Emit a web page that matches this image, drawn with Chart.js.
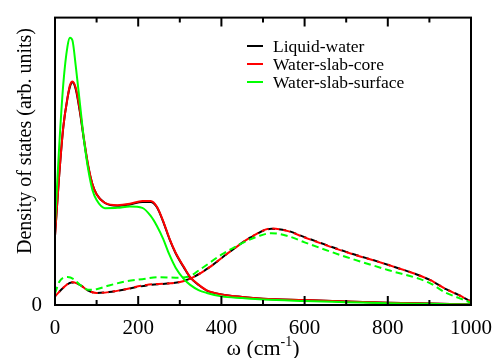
<!DOCTYPE html>
<html>
<head>
<meta charset="utf-8">
<script src="https://cdn.jsdelivr.net/npm/chart.js@4"></script>
<style>
  html, body { margin: 0; padding: 0; background: #fff; }
  #wrap { width: 495px; height: 358px; }
  .preload { position: absolute; left: -1000px; top: 0; font: 20px "Liberation Serif"; }
</style>
</head>
<body>
<div class="preload">Density ω 0123456789</div>
<div id="wrap"><canvas id="dos"></canvas></div>
<script>
// --- DATA ---
const seriesNames = ['Liquid-water', 'Water-slab-core', 'Water-slab-surface'];
const seriesColors = ['#000000', '#ff0000', '#00ff00'];
const xTicks = [0, 200, 400, 600, 800, 1000];

// solid curves
const wSolid = [0, 10, 20, 30, 36, 42, 50, 60, 70, 80, 90, 100, 120, 150, 180, 210, 230, 245, 260, 275, 290, 310, 325, 345, 365, 400, 450, 500, 600, 700, 800, 900, 1000];
const liquidSolid = [0.24, 0.45, 0.62, 0.72, 0.76, 0.775, 0.75, 0.67, 0.57, 0.48, 0.42, 0.385, 0.355, 0.345, 0.35, 0.358, 0.358, 0.34, 0.29, 0.23, 0.18, 0.13, 0.096, 0.07, 0.05, 0.037, 0.028, 0.022, 0.017, 0.012, 0.008, 0.005, 0.002];
const coreSolid = [0.24, 0.45, 0.62, 0.72, 0.765, 0.778, 0.755, 0.675, 0.575, 0.485, 0.42, 0.385, 0.355, 0.347, 0.352, 0.362, 0.362, 0.342, 0.292, 0.232, 0.182, 0.132, 0.097, 0.071, 0.051, 0.037, 0.028, 0.022, 0.017, 0.012, 0.008, 0.005, 0.002];
const surfSolid = [0.28, 0.55, 0.77, 0.90, 0.93, 0.92, 0.83, 0.70, 0.57, 0.47, 0.40, 0.365, 0.337, 0.338, 0.343, 0.338, 0.31, 0.275, 0.23, 0.175, 0.13, 0.09, 0.07, 0.052, 0.042, 0.03, 0.024, 0.019, 0.014, 0.01, 0.006, 0.004, 0.002];

// dashed curves
const wDashed = [0, 20, 40, 60, 80, 100, 130, 170, 220, 270, 300, 330, 370, 420, 470, 520, 560, 600, 700, 800, 900, 940, 970, 1000];
const liquidDashed = [0.03, 0.06, 0.078, 0.07, 0.05, 0.042, 0.045, 0.055, 0.068, 0.075, 0.08, 0.095, 0.13, 0.185, 0.235, 0.265, 0.258, 0.236, 0.185, 0.14, 0.088, 0.055, 0.035, 0.012];
const coreDashed = [0.03, 0.06, 0.08, 0.07, 0.05, 0.042, 0.045, 0.055, 0.07, 0.075, 0.08, 0.095, 0.13, 0.185, 0.235, 0.266, 0.257, 0.235, 0.184, 0.14, 0.088, 0.055, 0.035, 0.012];
const wSurfDashed = [0, 10, 20, 30, 45, 60, 80, 100, 130, 170, 210, 250, 290, 320, 350, 400, 450, 490, 520, 560, 600, 700, 800, 900, 940, 970, 1000];
const surfDashed = [0.04, 0.08, 0.095, 0.097, 0.09, 0.07, 0.053, 0.055, 0.068, 0.082, 0.09, 0.097, 0.095, 0.098, 0.125, 0.175, 0.215, 0.24, 0.25, 0.24, 0.218, 0.167, 0.122, 0.077, 0.042, 0.025, 0.008];

const SERIF = '"Liberation Serif"';

const pts = (xs, ys) => xs.map((x, i) => ({ x: x, y: ys[i] }));

// lower order is drawn on top
const line = (data, color, dashed, order) => ({
    data: data,
    order: order,
    borderColor: color,
    borderWidth: 2,
    borderDash: dashed ? [7, 4] : [],
    borderDashOffset: color === '#000000' ? 5 : 0,
    pointRadius: 0,
    fill: false,
    tension: 0.4,
    cubicInterpolationMode: 'monotone'
});

// --- PLUGINS ---
const frame = {
    id: 'frame',
    afterDatasetsDraw(chart) {
        const { ctx, chartArea: a, scales } = chart;
        ctx.save();
        ctx.strokeStyle = '#000';
        ctx.lineWidth = 2;
        ctx.strokeRect(a.left, a.top, a.right - a.left, a.bottom - a.top);
        // inward ticks on bottom and top
        for (let v = 0; v <= 1000; v += 100) {
            const px = scales.x.getPixelForValue(v);
            const len = v % 200 === 0 ? 9 : 5;
            ctx.beginPath();
            ctx.moveTo(px, a.bottom); ctx.lineTo(px, a.bottom - len);
            ctx.moveTo(px, a.top); ctx.lineTo(px, a.top + len);
            ctx.stroke();
        }
        // legend
        ctx.font = '17.5px ' + SERIF;
        ctx.textBaseline = 'middle';
        seriesNames.forEach((name, i) => {
            const y = 46 + i * 18;
            ctx.strokeStyle = seriesColors[i];
            ctx.beginPath();
            ctx.moveTo(247, y); ctx.lineTo(263, y);
            ctx.stroke();
            ctx.fillStyle = '#000';
            ctx.fillText(name, 273, y + 1);
        });
        // axis titles
        ctx.textBaseline = 'alphabetic';
        const t1 = 'ω (cm', t2 = '-1', t3 = ')';
        ctx.font = '22px ' + SERIF;
        const w1 = ctx.measureText(t1).width, w3 = ctx.measureText(t3).width;
        ctx.font = '14px ' + SERIF;
        const w2 = ctx.measureText(t2).width;
        const x0 = (a.left + a.right) / 2 - (w1 + w2 + w3) / 2;
        const base = 355;
        ctx.font = '22px ' + SERIF;
        ctx.fillText(t1, x0, base);
        ctx.font = '14px ' + SERIF;
        ctx.fillText(t2, x0 + w1, base - 9);
        ctx.font = '22px ' + SERIF;
        ctx.fillText(t3, x0 + w1 + w2, base);
        ctx.save();
        ctx.translate(26, 141);
        ctx.rotate(-Math.PI / 2);
        ctx.textAlign = 'center';
        ctx.textBaseline = 'middle';
        ctx.font = '20px ' + SERIF;
        ctx.fillText('Density of states (arb. units)', 0, 0);
        ctx.restore();
        ctx.restore();
    }
};

// --- CHART ---
function initChart() {
    new Chart(document.getElementById('dos'), {
        type: 'line',
        data: {
            datasets: [
                line(pts(wDashed, liquidDashed), seriesColors[0], true, 5),
                line(pts(wDashed, coreDashed), seriesColors[1], true, 4),
                line(pts(wSurfDashed, surfDashed), seriesColors[2], true, 3),
                line(pts(wSolid, liquidSolid), seriesColors[0], false, 2),
                line(pts(wSolid, coreSolid), seriesColors[1], false, 1),
                line(pts(wSolid, surfSolid), seriesColors[2], false, 0)
            ]
        },
        options: {
            responsive: true,
            maintainAspectRatio: false,
            animation: false,
            layout: { padding: { top: 14, right: 23, left: 0, bottom: 0 } },
            plugins: { legend: { display: false }, tooltip: { enabled: false } },
            scales: {
                x: {
                    type: 'linear', min: 0, max: 1000,
                    grid: { display: false },
                    border: { display: false },
                    afterBuildTicks: s => { s.ticks = xTicks.map(v => ({ value: v })); },
                    afterFit: s => { s.height = 53; },
                    ticks: { color: '#000', padding: 3, maxRotation: 0, callback: v => String(v), font: { family: SERIF, size: 21 } }
                },
                y: {
                    min: 0, max: 1,
                    grid: { display: false },
                    border: { display: false },
                    afterBuildTicks: s => { s.ticks = [{ value: 0 }]; },
                    afterFit: s => { s.width = 55; },
                    ticks: { color: '#000', padding: 5, callback: v => String(v), font: { family: SERIF, size: 21 } }
                }
            }
        },
        plugins: [frame]
    });
}

document.fonts.load('21px "Liberation Serif"').then(initChart, initChart);
</script>
</body>
</html>
